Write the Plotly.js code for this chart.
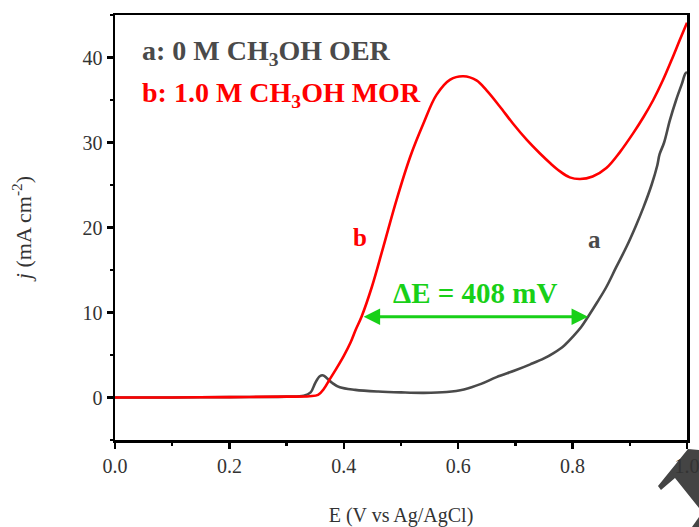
<!DOCTYPE html>
<html>
<head>
<meta charset="utf-8">
<script src="https://cdn.plot.ly/plotly-3.0.1.min.js"></script>
<style>html,body{margin:0;padding:0;background:#fff;}#chart{width:699px;height:527px;}</style>
</head>
<body>
<div id="chart"></div>
<script>
// Curve a: 0 M CH3OH (OER)
const potentialA = [0.00,0.10,0.20,0.30,0.33,0.342,0.350,0.358,0.364,0.370,0.380,0.393,0.42,0.46,0.50,0.54,0.58,0.61,0.64,0.667,0.70,0.726,0.75,0.766,0.785,0.801,0.815,0.827,0.843,0.859,0.876,0.894,0.91,0.924,0.938,0.948,0.952,0.960,0.970,0.981,0.991,0.997,1.00];
const currentA   = [0.0,0.0,0.05,0.1,0.2,0.6,1.7,2.5,2.6,2.3,1.7,1.2,0.9,0.7,0.6,0.55,0.65,0.95,1.6,2.4,3.2,3.9,4.6,5.2,6.1,7.2,8.3,9.5,11.2,13.0,15.3,17.7,20.1,22.4,25.0,27.3,28.6,30.0,32.6,35.0,36.9,38.1,38.3];
// Curve b: 1.0 M CH3OH (MOR)
const potentialB = [0.00,0.10,0.20,0.30,0.34,0.355,0.365,0.375,0.387,0.40,0.412,0.421,0.431,0.449,0.469,0.492,0.516,0.539,0.562,0.586,0.609,0.632,0.650,0.672,0.696,0.72,0.743,0.762,0.778,0.795,0.813,0.835,0.859,0.883,0.906,0.924,0.941,0.957,0.973,0.987,1.00];
const currentB   = [0.0,0.0,0.05,0.1,0.15,0.3,1.0,2.1,3.4,4.9,6.5,8.0,9.5,13.0,17.7,23.2,28.3,32.2,35.6,37.4,37.8,37.3,36.1,34.3,32.2,30.3,28.7,27.5,26.6,25.9,25.7,26.0,27.0,28.9,31.1,33.0,35.0,37.2,39.7,42.0,44.1];
// Delta E arrow (V) and its current level
const deltaStart = 0.432, deltaEnd = 0.827, deltaLevel = 9.5;
const xTicks = [0.0,0.2,0.4,0.6,0.8,1.0];
const yTicks = [0,10,20,30,40];

const serif = "'Liberation Serif','Times New Roman',serif";
const gray = '#4a4a4a', red = '#ff0000', green = '#18d018';

const traces = [
  {x: potentialA, y: currentA, mode: 'lines', line: {color: gray, width: 2.6, shape: 'spline', smoothing: 1}, hoverinfo: 'skip'},
  {x: potentialB, y: currentB, mode: 'lines', line: {color: red, width: 2.6, shape: 'spline', smoothing: 1}, hoverinfo: 'skip'}
];

function P(px, py){ return [(px-115)/572, (440-py)/425]; }
function path(pts){ return 'M ' + pts.map(p => { const q = P(p[0], p[1]); return q[0].toFixed(4)+','+q[1].toFixed(4); }).join(' L ') + ' Z'; }

const layout = {
  width: 699, height: 527,
  margin: {l: 115, r: 12, t: 15, b: 87},
  paper_bgcolor: '#fff', plot_bgcolor: '#fff',
  showlegend: false,
  font: {family: serif, color: '#222'},
  xaxis: {
    range: [0, 1.0], tickvals: xTicks, ticktext: xTicks.map(v => v.toFixed(1)),
    ticklabeloverflow: 'allow',
    ticks: 'outside', ticklen: 6, tickwidth: 2.5, tickcolor: '#000',
    minor: {dtick: 0.1, ticks: 'outside', ticklen: 3, tickwidth: 2.5, tickcolor: '#000'},
    showline: true, linecolor: '#000', linewidth: 2.5, mirror: true,
    showgrid: false, zeroline: false,
    tickfont: {family: serif, size: 20, color: '#333'},
    title: {text: 'E (V vs Ag/AgCl)', font: {family: serif, size: 20, color: '#333'}, standoff: 33}
  },
  yaxis: {
    range: [-5, 45], tickvals: yTicks,
    ticks: 'outside', ticklen: 6, tickwidth: 2.5, tickcolor: '#000',
    minor: {dtick: 5, ticks: 'outside', ticklen: 3, tickwidth: 2.5, tickcolor: '#000'},
    showline: true, linecolor: '#000', linewidth: 2.5, mirror: true,
    showgrid: false, zeroline: false,
    tickfont: {family: serif, size: 20, color: '#333'},
    title: {text: '<i>j</i> (mA cm<sup>-2</sup>)', font: {family: serif, size: 22, color: '#333'}, standoff: 45}
  },
  annotations: [
    {xref: 'paper', yref: 'paper', x: 0.043, y: 0.912, xanchor: 'left', yanchor: 'middle', showarrow: false,
     text: '<b>a: 0 M CH<sub>3</sub>OH OER</b>', font: {family: serif, size: 28, color: gray}},
    {xref: 'paper', yref: 'paper', x: 0.043, y: 0.812, xanchor: 'left', yanchor: 'middle', showarrow: false,
     text: '<b>b: 1.0 M CH<sub>3</sub>OH MOR</b>', font: {family: serif, size: 28, color: red}},
    {x: 0.428, y: 18.8, showarrow: false, text: '<b>b</b>', font: {family: serif, size: 25, color: red}},
    {x: 0.839, y: 18.6, showarrow: false, text: '<b>a</b>', font: {family: serif, size: 25, color: gray}},
    {x: 0.630, y: 12.3, showarrow: false, text: '<b>ΔE = 408 mV</b>', font: {family: serif, size: 29, color: green}},
    {x: deltaEnd, y: deltaLevel, ax: deltaStart, ay: deltaLevel, axref: 'x', ayref: 'y', xref: 'x', yref: 'y',
     text: '', showarrow: true, arrowhead: 2, startarrowhead: 2, arrowside: 'end+start', arrowsize: 1.1, startarrowsize: 1.1,
     arrowwidth: 3, arrowcolor: green, standoff: 0, startstandoff: 0}
  ],
  shapes: [
    {type: 'path', xref: 'paper', yref: 'paper', layer: 'below', line: {width: 0}, fillcolor: '#444',
     path: path([[658,486],[688,449],[699,450],[699,508],[675,478],[661,490]])},
    {type: 'path', xref: 'paper', yref: 'paper', layer: 'below', line: {width: 0}, fillcolor: '#444',
     path: path([[692,527],[699,517],[699,527]])}
  ]
};

Plotly.newPlot('chart', traces, layout, {displayModeBar: false, staticPlot: true});
</script>
</body>
</html>
